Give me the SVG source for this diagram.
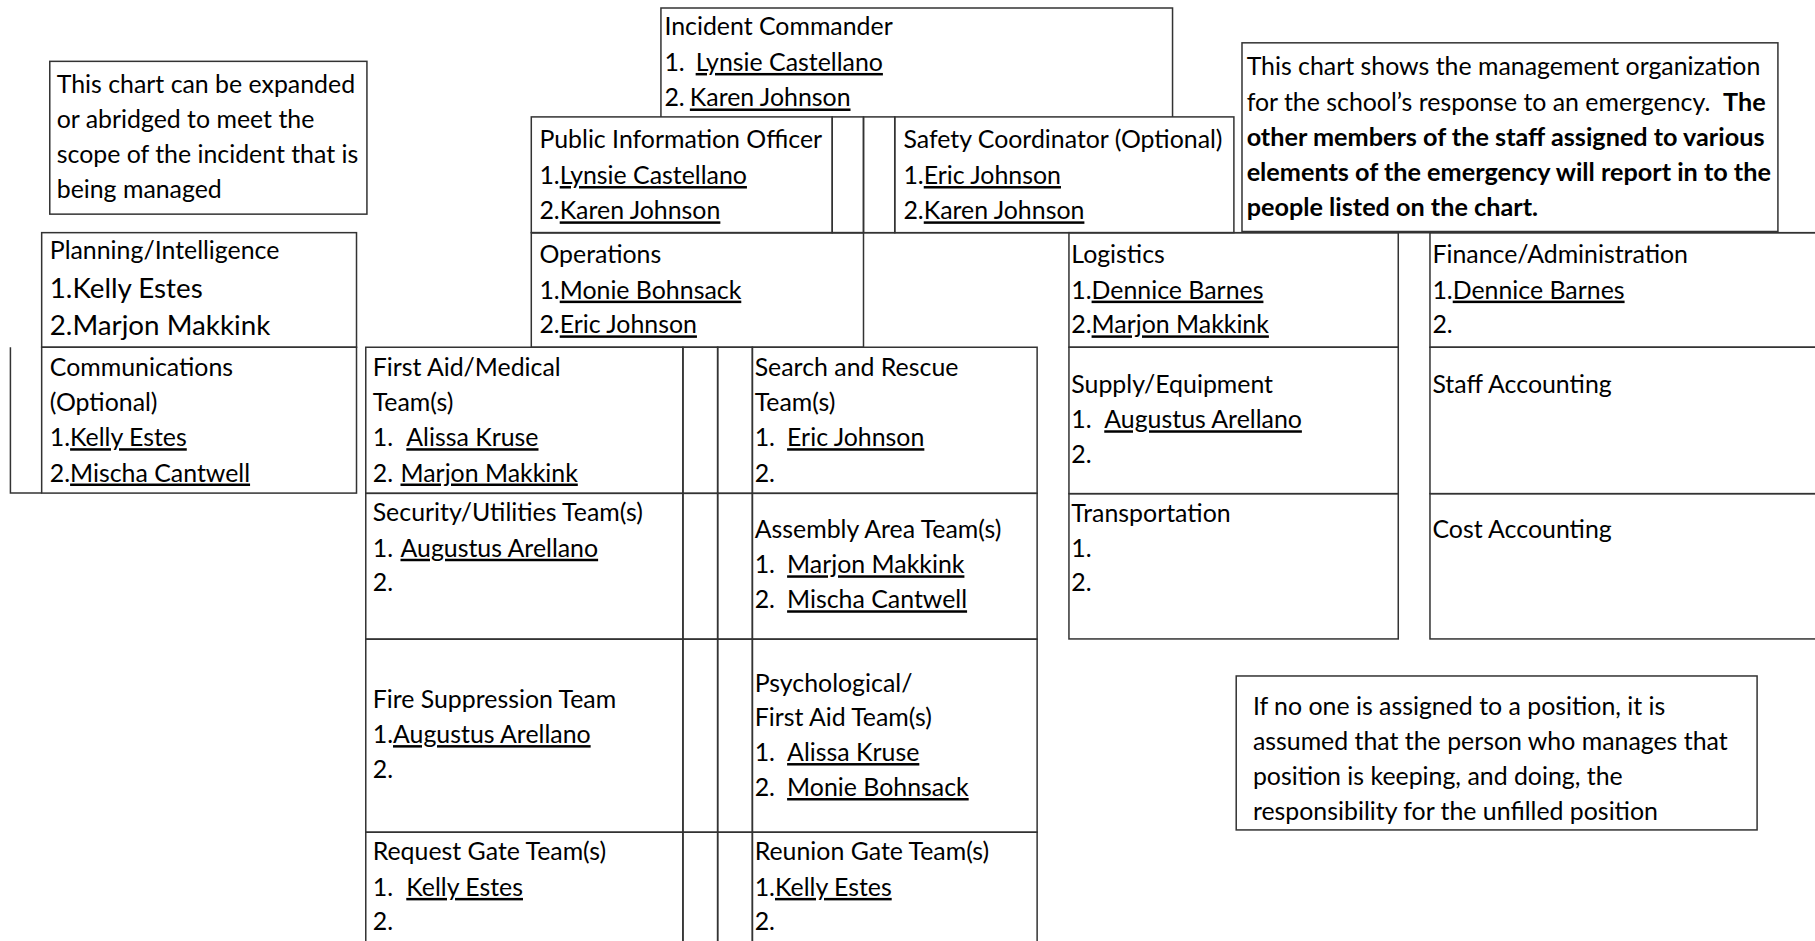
<svg xmlns="http://www.w3.org/2000/svg" width="1815" height="941" viewBox="0 0 1815 941">
<style>
text{font-family:Lato,"Liberation Sans",sans-serif;font-size:21.5px;fill:#000}
.big{font-size:24px}
.b{font-weight:bold;font-size:21.8px}
.u{text-decoration:underline}
rect,.ln{fill:none;stroke:#333;stroke-width:1.3}
</style>
<g transform="scale(1.1575)">
<g id="connectors">
<path class="ln" d="M459,201 H1570"/>
<path class="ln" d="M9,300 V426 H36"/>
</g>
<g id="note-left">
<rect x="43" y="53" width="274" height="132"/>
<text x="49" y="80">This chart can be expanded</text>
<text x="49" y="110.8">or abridged to meet the</text>
<text x="49" y="141">scope of the incident that is</text>
<text x="49" y="170.8">being managed</text>
</g>
<g id="incident-commander">
<path class="ln" d="M571,101 V7 H1013 V101"/>
<text x="574" y="30.2">Incident Commander</text>
<text x="574" y="61.3">1.<tspan x="601" class="u">Lynsie Castellano</tspan></text>
<text x="574" y="92">2.<tspan x="596" class="u">Karen Johnson</tspan></text>
</g>
<g id="note-right">
<rect x="1073" y="37" width="463" height="163"/>
<text x="1077" y="65">This chart shows the management organization</text>
<text x="1077" y="95.7">for the school’s response to an emergency.&#160; <tspan class="b">The</tspan></text>
<text x="1077" y="126.2" class="b">other members of the staff assigned to various</text>
<text x="1077" y="156.5" class="b">elements of the emergency will report in to the</text>
<text x="1077" y="186.5" class="b">people listed on the chart.</text>
</g>
<g id="public-information-officer">
<rect x="459" y="101" width="260" height="100"/>
<text x="466" y="127.6">Public Information Officer</text>
<text x="466" y="159">1.<tspan class="u">Lynsie Castellano</tspan></text>
<text x="466" y="189.5">2.<tspan class="u">Karen Johnson</tspan></text>
</g>
<g id="staff-spacer">
<rect x="719" y="101" width="27" height="100"/>
<rect x="746" y="101" width="27" height="100"/>
</g>
<g id="safety-coordinator">
<rect x="773" y="101" width="293" height="100"/>
<text x="780.5" y="127.6">Safety Coordinator (Optional)</text>
<text x="780.5" y="159">1.<tspan class="u">Eric Johnson</tspan></text>
<text x="780.5" y="189.5">2.<tspan class="u">Karen Johnson</tspan></text>
</g>
<g id="planning-intelligence">
<rect x="36" y="201" width="272" height="99"/>
<text x="43" y="224">Planning/Intelligence</text>
<text x="43" y="257.5" class="big">1.Kelly Estes</text>
<text x="43" y="289.3" class="big">2.Marjon Makkink</text>
</g>
<g id="communications">
<rect x="36" y="300" width="272" height="126"/>
<text x="43" y="324.5">Communications</text>
<text x="43" y="355">(Optional)</text>
<text x="43" y="385.5">1.<tspan class="u">Kelly Estes</tspan></text>
<text x="43" y="416">2.<tspan class="u">Mischa Cantwell</tspan></text>
</g>
<g id="operations">
<rect x="459" y="201" width="287" height="99"/>
<text x="466" y="227.5">Operations</text>
<text x="466" y="258">1.<tspan class="u">Monie Bohnsack</tspan></text>
<text x="466" y="288">2.<tspan class="u">Eric Johnson</tspan></text>
</g>
<g id="logistics">
<rect x="923.5" y="201" width="284.5" height="99"/>
<text x="925.5" y="227.5">Logistics</text>
<text x="925.5" y="258">1.<tspan class="u">Dennice Barnes</tspan></text>
<text x="925.5" y="288">2.<tspan class="u">Marjon Makkink</tspan></text>
</g>
<g id="supply-equipment">
<rect x="923.5" y="300" width="284.5" height="126.5"/>
<text x="925.5" y="339.8">Supply/Equipment</text>
<text x="925.5" y="370">1.<tspan x="954" class="u">Augustus Arellano</tspan></text>
<text x="925.5" y="400.3">2.</text>
</g>
<g id="transportation">
<rect x="923.5" y="426.5" width="284.5" height="125.5"/>
<text x="925.5" y="450.7">Transportation</text>
<text x="925.5" y="481">1.</text>
<text x="925.5" y="511">2.</text>
</g>
<g id="finance-administration">
<rect x="1235.4" y="201" width="400" height="99"/>
<text x="1237.5" y="227.5">Finance/Administration</text>
<text x="1237.5" y="258">1.<tspan class="u">Dennice Barnes</tspan></text>
<text x="1237.5" y="288">2.</text>
</g>
<g id="staff-accounting">
<rect x="1235.4" y="300" width="400" height="126.5"/>
<text x="1237.5" y="339.8">Staff Accounting</text>
</g>
<g id="cost-accounting">
<rect x="1235.4" y="426.5" width="400" height="125.5"/>
<text x="1237.5" y="465">Cost Accounting</text>
</g>
<g id="first-aid-medical">
<rect x="316" y="300" width="274" height="126.2"/>
<rect x="590" y="300" width="30" height="126.2"/>
<rect x="620" y="300" width="30" height="126.2"/>
<text x="322" y="324.5">First Aid/Medical</text>
<text x="322" y="355">Team(s)</text>
<text x="322" y="385.5">1.<tspan x="351" class="u">Alissa Kruse</tspan></text>
<text x="322" y="416">2.<tspan x="346" class="u">Marjon Makkink</tspan></text>
</g>
<g id="search-rescue">
<rect x="650" y="300" width="246" height="126.2"/>
<text x="652" y="324.5">Search and Rescue</text>
<text x="652" y="355">Team(s)</text>
<text x="652" y="385.5">1.<tspan x="680" class="u">Eric Johnson</tspan></text>
<text x="652" y="416">2.</text>
</g>
<g id="security-utilities">
<rect x="316" y="426.2" width="274" height="126"/>
<rect x="590" y="426.2" width="30" height="126"/>
<rect x="620" y="426.2" width="30" height="126"/>
<text x="322" y="450.5">Security/Utilities Team(s)</text>
<text x="322" y="481">1.<tspan x="346" class="u">Augustus Arellano</tspan></text>
<text x="322" y="511">2.</text>
</g>
<g id="assembly-area">
<rect x="650" y="426.2" width="246" height="126"/>
<text x="652" y="465">Assembly Area Team(s)</text>
<text x="652" y="495.3">1.<tspan x="680" class="u">Marjon Makkink</tspan></text>
<text x="652" y="525.5">2.<tspan x="680" class="u">Mischa Cantwell</tspan></text>
</g>
<g id="fire-suppression">
<rect x="316" y="552.2" width="274" height="166.8"/>
<rect x="590" y="552.2" width="30" height="166.8"/>
<rect x="620" y="552.2" width="30" height="166.8"/>
<text x="322" y="612">Fire Suppression Team</text>
<text x="322" y="642">1.<tspan class="u">Augustus Arellano</tspan></text>
<text x="322" y="672.4">2.</text>
</g>
<g id="psychological-first-aid">
<rect x="650" y="552.2" width="246" height="166.8"/>
<text x="652" y="597.5">Psychological/</text>
<text x="652" y="627.2">First Aid Team(s)</text>
<text x="652" y="657.5">1.<tspan x="680" class="u">Alissa Kruse</tspan></text>
<text x="652" y="687.7">2.<tspan x="680" class="u">Monie Bohnsack</tspan></text>
</g>
<g id="request-gate">
<rect x="316" y="719" width="274" height="130"/>
<rect x="590" y="719" width="30" height="130"/>
<rect x="620" y="719" width="30" height="130"/>
<text x="322" y="743">Request Gate Team(s)</text>
<text x="322" y="774">1.<tspan x="351" class="u">Kelly Estes</tspan></text>
<text x="322" y="803.5">2.</text>
</g>
<g id="reunion-gate">
<rect x="650" y="719" width="246" height="130"/>
<text x="652" y="743">Reunion Gate Team(s)</text>
<text x="652" y="774">1.<tspan class="u">Kelly Estes</tspan></text>
<text x="652" y="803.5">2.</text>
</g>
<g id="note-bottom">
<rect x="1068" y="584" width="450" height="133"/>
<text x="1082.4" y="617.5">If no one is assigned to a position, it is</text>
<text x="1082.4" y="648">assumed that the person who manages that</text>
<text x="1082.4" y="678">position is keeping, and doing, the</text>
<text x="1082.4" y="708.4">responsibility for the unfilled position</text>
</g>
</g>
</svg>
